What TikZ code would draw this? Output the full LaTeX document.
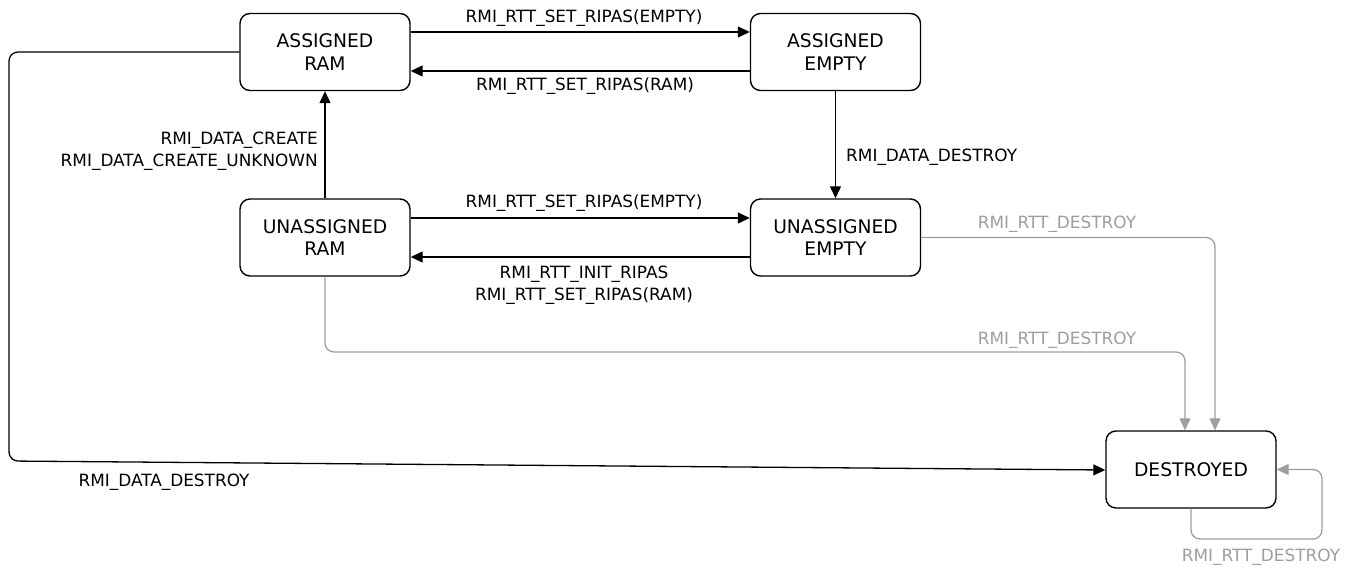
\documentclass[tikz,border=0pt]{standalone}
\usepackage{fontspec}
\setmainfont{DejaVu Sans}
\usetikzlibrary{arrows.meta}
\definecolor{eg}{RGB}{158,158,158}
\begin{document}
\begin{tikzpicture}[x=1pt,y=-1pt,
 state/.style={draw, line width=1.4pt, rounded corners=10pt, minimum width=170pt, minimum height=77pt, align=center, font=\fontsize{18.7}{22.6}\selectfont, inner sep=0pt},
 lbl/.style={inner sep=0pt, font=\fontsize{16.9}{21.5}\selectfont},
 glbl/.style={lbl, text=eg},
 edge/.style={line width=1.3pt, -{Triangle[length=12pt,width=11pt]}},
 gedge/.style={edge, draw=eg, rounded corners=9pt}
]
\useasboundingbox (0,0) rectangle (1355,567);

\node[state] (AR) at (325,52) {ASSIGNED\\RAM};
\node[state] (AE) at (835.5,52) {ASSIGNED\\EMPTY};
\node[state] (UR) at (325,237.5) {UNASSIGNED\\RAM};
\node[state] (UE) at (835.5,237.5) {UNASSIGNED\\EMPTY};
\node[state] (D) at (1191,469.5) {DESTROYED};

% top pair
\draw[edge] ([yshift=20pt]AR.east) -- ([yshift=20pt]AE.west);
\draw[edge] ([yshift=-19pt]AE.west) -- ([yshift=-19pt]AR.east);
\node[lbl, anchor=base] (l1) at (584,22.5) {RMI\_RTT\_SET\_RIPAS(EMPTY)};
\node[lbl, anchor=base] (l2) at (585,91) {RMI\_RTT\_SET\_RIPAS(RAM)};

% verticals
\draw[edge] (UR.north) -- (AR.south);
\node[lbl, anchor=north east, align=right] (l3) at (318,132) {RMI\_DATA\_CREATE\\RMI\_DATA\_CREATE\_UNKNOWN};
\draw[edge] (AE.south) -- (UE.north);
\node[lbl, anchor=base west] (l4) at (846,161) {RMI\_DATA\_DESTROY};

% middle pair
\draw[edge] ([yshift=19.5pt]UR.east) -- ([yshift=19.5pt]UE.west);
\draw[edge] ([yshift=-19.5pt]UE.west) -- ([yshift=-19.5pt]UR.east);
\node[lbl, anchor=base] (l5) at (584,207.5) {RMI\_RTT\_SET\_RIPAS(EMPTY)};
\node[lbl, anchor=north, align=center] (l6) at (584,266) {RMI\_RTT\_INIT\_RIPAS\\RMI\_RTT\_SET\_RIPAS(RAM)};

% gray destroy edges
\draw[gedge] (UE.east) -| ([xshift=24pt]D.north);
\node[glbl, anchor=base] (l7) at (1057,228) {RMI\_RTT\_DESTROY};
\coordinate (c2) at (700,352);
\draw[gedge] (UR.south) |- (c2) -| ([xshift=-6pt]D.north);
\node[glbl, anchor=base] (l8) at (1057,344) {RMI\_RTT\_DESTROY};
\coordinate (s1) at (1322,539);
\draw[gedge] (D.south) |- (s1) |- (D.east);
\node[glbl, anchor=base] (l9) at (1261,561) {RMI\_RTT\_DESTROY};

% long black edge
\coordinate (k1) at (9,52);
\coordinate (k2) at (9,461);
\draw[edge, rounded corners=9pt] (AR.west) -- (k1) -- (k2) -- ([yshift=-0.5pt]D.west);
\node[lbl, anchor=base] (l10) at (164,486) {RMI\_DATA\_DESTROY};
\end{tikzpicture}
\end{document}
